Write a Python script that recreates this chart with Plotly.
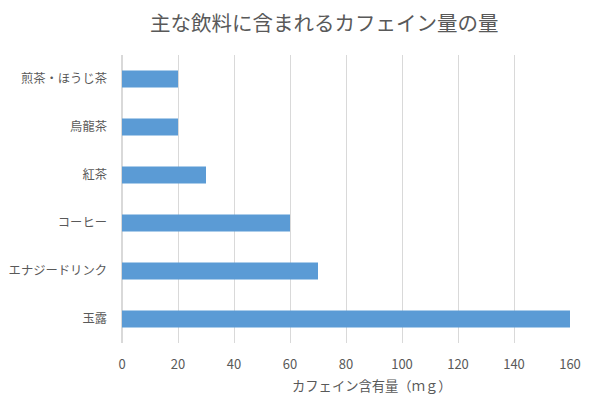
import plotly.graph_objects as go

categories = ["煎茶・ほうじ茶", "烏龍茶", "紅茶", "コーヒー", "エナジードリンク", "玉露"]
values = [20, 20, 30, 60, 70, 160]
x_ticks = [0, 20, 40, 60, 80, 100, 120, 140, 160]

FONT = "Noto Sans CJK JP"
GREY = "#595959"

fig = go.Figure(go.Bar(
    x=values, y=categories, orientation="h",
    marker=dict(color="#5b9bd5", line=dict(width=0)),
))

# page body has an 8px default margin, so the figure is sized 599x399
fig.update_layout(
    width=599, height=399,
    margin=dict(l=114, r=37, t=47, b=64, autoexpand=False),
    paper_bgcolor="white", plot_bgcolor="white",
    font=dict(family=FONT, color=GREY, size=12.3),
    title=dict(text="主な飲料に含まれるカフェイン量の量", x=0.528, xanchor="center", xref="container",
               y=0.961, yanchor="middle", yref="container",
               font=dict(size=20.5, color=GREY, family=FONT)),
    bargap=0.65,
    showlegend=False,
    annotations=[dict(text="カフェイン含有量（ｍｇ）", xref="paper", yref="paper",
                      x=0.558, y=-0.146, xanchor="center", yanchor="middle",
                      showarrow=False, font=dict(size=13.3, color=GREY, family=FONT))],
)
fig.update_xaxes(
    range=[0, 160], tickvals=x_ticks, showgrid=True, gridcolor="#d9d9d9", gridwidth=1,
    zeroline=True, zerolinecolor="#d9d9d9", showline=False, ticks="",
    tickfont=dict(size=13, color=GREY), ticklabelstandoff=12, automargin=False,
)
fig.update_yaxes(
    categoryorder="array", categoryarray=categories, autorange="reversed",
    showgrid=False, showline=False, ticks="", ticklabelstandoff=14, automargin=False,
    tickfont=dict(size=12.3, color=GREY),
)

fig.write_html("out.html")
